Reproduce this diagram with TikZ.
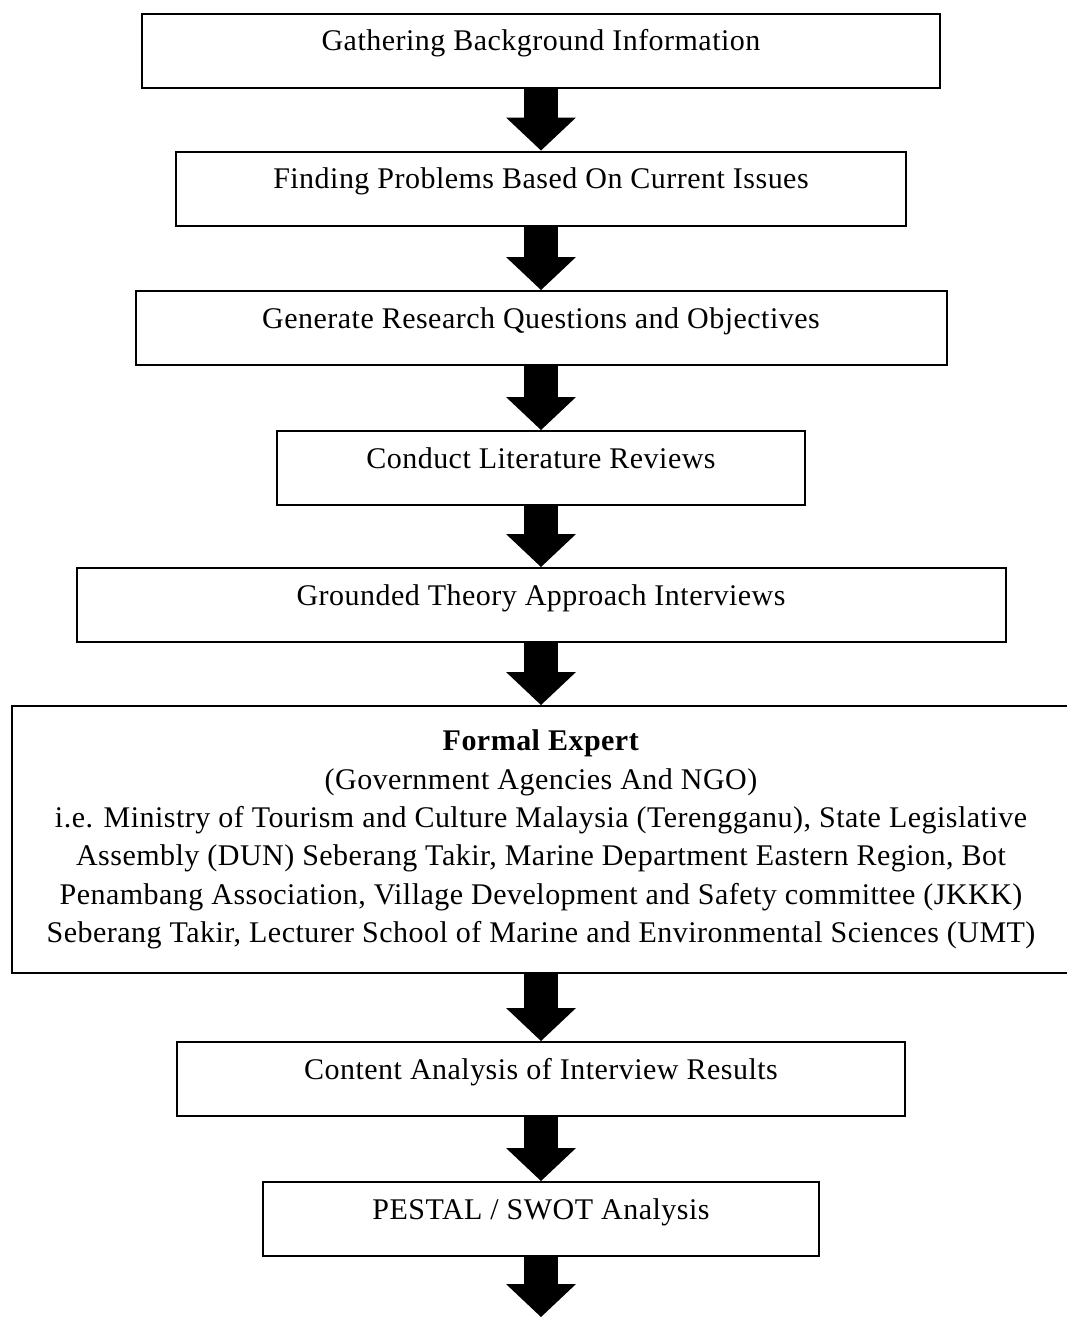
\documentclass[tikz,border=0pt]{standalone}
\usepackage{fontspec}
\setmainfont[LetterSpace=1.6]{Liberation Serif}
\usetikzlibrary{arrows.meta}
\tikzset{
  stagebox/.style={draw, line width=1.5pt, inner xsep=0pt, inner ysep=0pt},
  stageline/.style={stagebox, text height=27.75pt, text depth=27.75pt},
  bigarrow/.style={line width=25.5pt, -{Triangle[width=52.5pt, length=24.75pt, line width=0pt]}}
}
\begin{document}
\begin{tikzpicture}[x=0.75pt, y=-0.75pt, font=\fontsize{22.5pt}{28.8pt}\selectfont]
\useasboundingbox (0,0) rectangle (1067,1317);
\node[stageline, minimum width=598.5pt] (st1) at (541,50.5){Gathering Background Information};
\node[stageline, minimum width=547.5pt] (st2) at (541,188.5){Finding Problems Based On Current Issues};
\node[stageline, minimum width=608.25pt] (st3) at (541,328){Generate Research Questions and Objectives};
\node[stageline, minimum width=396pt] (st4) at (541,468){Conduct Literature Reviews};
\node[stageline, minimum width=696.75pt] (st5) at (541,605){Grounded Theory Approach Interviews};
\node[stagebox, minimum width=793.5pt, minimum height=200.25pt, align=center] (st6) at (541,839.5){\textbf{Formal Expert}\\
(Government Agencies And NGO)\\
i.e. Ministry of Tourism and Culture Malaysia (Terengganu), State Legislative\\
Assembly (DUN) Seberang Takir, Marine Department Eastern Region, Bot\\
Penambang Association, Village Development and Safety committee (JKKK)\\
Seberang Takir, Lecturer School of Marine and Environmental Sciences (UMT)};
\node[stageline, minimum width=546pt] (st7) at (541,1079){Content Analysis of Interview Results};
\node[stageline, minimum width=417pt] (st8) at (541,1219){PESTAL / SWOT Analysis};
\coordinate (stend) at (541,1317);
\draw[bigarrow](st1) -- (st2);
\draw[bigarrow](st2) -- (st3);
\draw[bigarrow](st3) -- (st4);
\draw[bigarrow](st4) -- (st5);
\draw[bigarrow](st5) -- (st6);
\draw[bigarrow](st6) -- (st7);
\draw[bigarrow](st7) -- (st8);
\draw[bigarrow](st8) -- (stend);

\end{tikzpicture}
\end{document}
